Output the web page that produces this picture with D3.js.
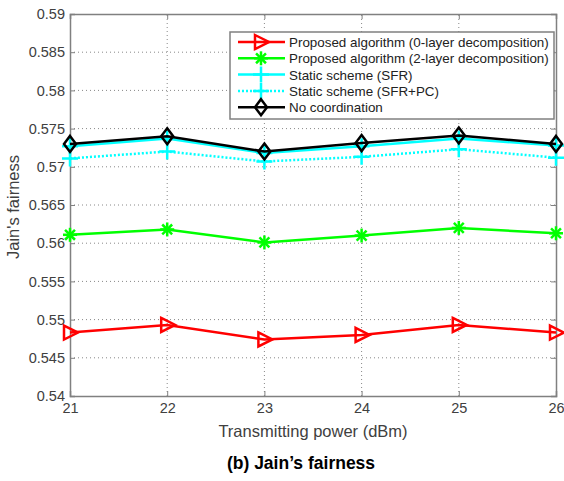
<!DOCTYPE html>
<html>
<head>
<meta charset="utf-8">
<script src="https://cdn.jsdelivr.net/npm/d3@7"></script>
<style>
body { margin: 0; background: #fff; }
text { font-family: "Liberation Sans", Arial, sans-serif; }
</style>
</head>
<body>
<div class="chart"></div>
<script>
var w = 564;
var h = 481;

// Data
var powers = [21, 22, 23, 24, 25, 26];
var yTicks = [0.54, 0.545, 0.55, 0.555, 0.56, 0.565, 0.57, 0.575, 0.58, 0.585, 0.59];
var zeroLayer = [0.5483, 0.5493, 0.5474, 0.5480, 0.5493, 0.5483];
var twoLayer = [0.5611, 0.5618, 0.5601, 0.5610, 0.5620, 0.5613];
var staticSFR = [0.5727, 0.5737, 0.5718, 0.5727, 0.5737, 0.5728];
var staticSFRPC = [0.5711, 0.5720, 0.5707, 0.5713, 0.5723, 0.5712];
var noCoord = [0.5730, 0.5740, 0.5720, 0.5731, 0.5741, 0.5730];
var seriesNames = [
    "Proposed algorithm (0-layer decomposition)",
    "Proposed algorithm (2-layer decomposition)",
    "Static scheme (SFR)",
    "Static scheme (SFR+PC)",
    "No coordination"
];

var series = [
    { name: seriesNames[0], values: zeroLayer, color: "#ff0000", marker: "tri", dash: null },
    { name: seriesNames[1], values: twoLayer, color: "#00ff00", marker: "star", dash: null },
    { name: seriesNames[2], values: staticSFR, color: "#00ffff", marker: "plus", dash: null },
    { name: seriesNames[3], values: staticSFRPC, color: "#00ffff", marker: "plus", dash: "2,2" },
    { name: seriesNames[4], values: noCoord, color: "#000000", marker: "diamond", dash: null }
];

var margin = { left: 70, top: 14, right: 8, bottom: 85 };

var x = d3.scaleLinear().domain([21, 26]).range([margin.left, w - margin.right]);
var y = d3.scaleLinear().domain([0.54, 0.59]).range([h - margin.bottom, margin.top]);

var svg = d3.select(".chart")
    .append("svg")
    .attr("width", w)
    .attr("height", h);

// Grid
svg.append("g").selectAll("line.gy")
    .data(yTicks.slice(1, -1))
    .enter().append("line")
    .attr("x1", x(21)).attr("x2", x(26))
    .attr("y1", d => y(d)).attr("y2", d => y(d))
    .attr("stroke", "#888").attr("stroke-width", 1)
    .attr("stroke-dasharray", "1,3");

svg.append("g").selectAll("line.gx")
    .data(powers.slice(1, -1))
    .enter().append("line")
    .attr("x1", d => x(d)).attr("x2", d => x(d))
    .attr("y1", y(0.54)).attr("y2", y(0.59))
    .attr("stroke", "#888").attr("stroke-width", 1)
    .attr("stroke-dasharray", "1,3");

// Axes
var xAxis = d3.axisBottom(x).tickValues(powers).tickSize(-5).tickPadding(7).tickFormat(d3.format("d"));
var yAxis = d3.axisLeft(y).tickValues(yTicks).tickSize(-5).tickPadding(5).tickFormat(d => String(+d.toFixed(3)));

var gx = svg.append("g").attr("transform", "translate(0," + y(0.54) + ")").call(xAxis);
var gy = svg.append("g").attr("transform", "translate(" + x(21) + ",0)").call(yAxis);

// mirror ticks on top and right
svg.append("g").attr("transform", "translate(0," + y(0.59) + ")")
    .call(d3.axisTop(x).tickValues(powers).tickSize(-5).tickFormat(""));
svg.append("g").attr("transform", "translate(" + x(26) + ",0)")
    .call(d3.axisRight(y).tickValues(yTicks).tickSize(-5).tickFormat(""));

svg.selectAll(".domain").attr("stroke", "#808080").attr("stroke-width", 1.5);
svg.selectAll(".tick line").attr("stroke", "#808080");
svg.selectAll(".tick text").attr("fill", "#404040").attr("font-size", 14.5)
    .attr("font-family", "Liberation Sans, Arial, sans-serif");

// Lines
var line = d3.line()
    .x((d, i) => x(powers[i]))
    .y(d => y(d));

function drawMarker(g, type, color, cx, cy) {
    if (type === "tri") {
        g.append("path")
            .attr("d", "M" + (cx - 6) + "," + (cy - 7) + "L" + (cx + 8) + "," + cy + "L" + (cx - 6) + "," + (cy + 7) + "Z")
            .attr("fill", "none").attr("stroke", color).attr("stroke-width", 2.5);
    } else if (type === "star") {
        var r = 7;
        [0, 45, 90, 135].forEach(a => {
            var rad = a * Math.PI / 180;
            g.append("line")
                .attr("x1", cx - r * Math.cos(rad)).attr("y1", cy - r * Math.sin(rad))
                .attr("x2", cx + r * Math.cos(rad)).attr("y2", cy + r * Math.sin(rad))
                .attr("stroke", color).attr("stroke-width", 2.5);
        });
    } else if (type === "plus") {
        var r2 = 8;
        g.append("path")
            .attr("d", "M" + (cx - r2) + "," + cy + "H" + (cx + r2) + "M" + cx + "," + (cy - r2) + "V" + (cy + r2))
            .attr("stroke", color).attr("stroke-width", 2.5).attr("fill", "none");
    } else if (type === "diamond") {
        var r3 = 8;
        g.append("path")
            .attr("d", "M" + cx + "," + (cy - r3) + "L" + (cx + 6) + "," + cy + "L" + cx + "," + (cy + r3) + "L" + (cx - 6) + "," + cy + "Z")
            .attr("fill", "none").attr("stroke", color).attr("stroke-width", 2.5);
    }
}

series.forEach(s => {
    var g = svg.append("g");
    g.append("path")
        .datum(s.values)
        .attr("d", line)
        .attr("fill", "none")
        .attr("stroke", s.color)
        .attr("stroke-width", 2.5)
        .attr("stroke-dasharray", s.dash);
    s.values.forEach((v, i) => drawMarker(g, s.marker, s.color, x(powers[i]), y(v)));
});

// Legend
var legend = svg.append("g");
legend.append("rect")
    .attr("x", 230).attr("y", 32)
    .attr("width", 324).attr("height", 87)
    .attr("fill", "#fff").attr("stroke", "#808080").attr("stroke-width", 1.5);

series.forEach((s, i) => {
    var ly = 42 + i * 16.3;
    legend.append("line")
        .attr("x1", 238).attr("x2", 285)
        .attr("y1", ly).attr("y2", ly)
        .attr("stroke", s.color).attr("stroke-width", 2.5)
        .attr("stroke-dasharray", s.dash);
    drawMarker(legend, s.marker, s.color, 261, ly);
    legend.append("text")
        .attr("x", 289).attr("y", ly + 5)
        .attr("font-size", 13.4).attr("fill", "#222")
        .text(s.name);
});

// Axis labels
svg.append("text")
    .attr("x", 313).attr("y", 437)
    .attr("text-anchor", "middle")
    .attr("font-size", 16.5).attr("fill", "#404040")
    .text("Transmitting power (dBm)");

svg.append("text")
    .attr("transform", "translate(19,207) rotate(-90)")
    .attr("text-anchor", "middle")
    .attr("font-size", 16.5).attr("fill", "#404040")
    .text("Jain's fairness");

svg.append("text")
    .attr("x", 301).attr("y", 469)
    .attr("text-anchor", "middle")
    .attr("font-size", 17.5).attr("font-weight", "bold").attr("fill", "#000")
    .text("(b) Jain\u2019s fairness");
</script>
</body>
</html>
